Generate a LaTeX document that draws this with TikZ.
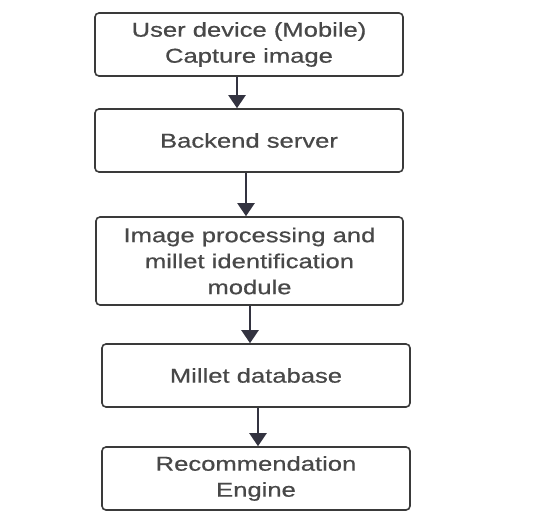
\documentclass[tikz,border=0pt]{standalone}
\usepackage{fontspec}
\setmainfont{Liberation Sans}[FakeStretch=1.28,FakeBold=0.6]
\usetikzlibrary{arrows.meta}
\definecolor{boxc}{HTML}{3A3A3A}
\definecolor{txtc}{HTML}{484848}
\definecolor{arrc}{HTML}{333340}
\tikzset{
  box/.style={draw=boxc, line width=1.6bp, rounded corners=4bp, fill=white,
    minimum width=308bp, minimum height=63bp, align=center, text=txtc,
    inner sep=2bp, font=\fontsize{20bp}{26bp}\selectfont},
  flow/.style={draw=arrc, line width=2.2bp, -{Triangle[width=17bp,length=13bp]}}
}
\begin{document}
\begin{tikzpicture}[x=1bp,y=-1bp]
\path[use as bounding box, fill=white] (0,0) rectangle (551,527);
\node[box] (b1) at (249,44.5) {User device (Mobile)\\Capture image};
\node[box] (b2) at (249,140.5) {Backend server};
\node[box, minimum width=307bp, minimum height=88bp] (b3) at (249.5,261) {Image processing and\\millet identification\\module};
\node[box] (b4) at (256,375.5) {Millet database};
\node[box] (b5) at (256,478.5) {Recommendation\\Engine};
\coordinate (x1) at (237,0);
\coordinate (x2) at (246,0);
\coordinate (x3) at (250,0);
\coordinate (x4) at (258,0);
\draw[flow] (b1.south -| x1) -- (b2.north -| x1);
\draw[flow] (b2.south -| x2) -- (b3.north -| x2);
\draw[flow] (b3.south -| x3) -- (b4.north -| x3);
\draw[flow] (b4.south -| x4) -- (b5.north -| x4);
\end{tikzpicture}
\end{document}
